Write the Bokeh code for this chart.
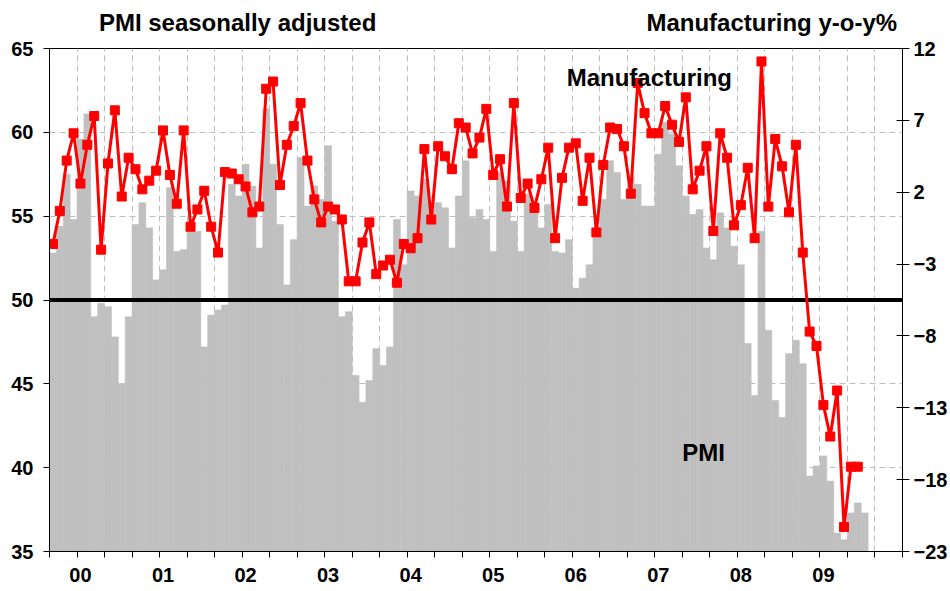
from bokeh.plotting import figure
from bokeh.layouts import column
from bokeh.models import Range1d, LinearAxis, FixedTicker, Span, Label
from bokeh.embed import file_html
from bokeh.resources import INLINE

# ---- data (monthly, Sep 1999 onwards) ----
year_labels = ["00", "01", "02", "03", "04", "05", "06", "07", "08", "09"]
months_before_first_jan = 4  # Sep, Oct, Nov, Dec 1999

pmi = [
    52.8, 54.4, 57.5, 54.8,                                                  # 1999 Sep-Dec
    59.6, 61.1, 49.0, 49.8, 49.6, 47.8, 45.0, 49.0, 54.5, 55.8, 54.3, 51.2,  # 2000
    51.8, 56.7, 52.9, 53.0, 54.1, 54.1, 47.2, 49.1, 49.4, 49.7, 56.9, 56.2,  # 2001
    58.1, 56.8, 53.1, 61.4, 58.1, 54.5, 50.9, 53.6, 58.5, 55.6, 56.8, 56.0,  # 2002
    59.2, 54.7, 49.0, 49.3, 45.5, 43.9, 45.2, 47.1, 46.1, 47.2, 54.8, 52.1,  # 2003
    56.5, 56.2, 57.2, 55.8, 55.8, 55.5, 53.1, 56.2, 58.3, 54.9, 55.4, 54.8,  # 2004
    52.9, 57.6, 57.1, 54.7, 52.9, 56.3, 55.6, 54.3, 55.7, 52.9, 52.8, 53.6,  # 2005
    50.7, 51.3, 52.1, 53.7, 56.0, 58.3, 57.6, 56.0, 57.4, 56.9, 55.6, 55.6,  # 2006
    58.7, 60.6, 59.9, 58.0, 56.2, 55.1, 55.4, 53.1, 52.4, 55.2, 54.3, 53.2,  # 2007
    52.1, 47.4, 44.3, 54.1, 48.2, 44.0, 43.0, 46.8, 47.6, 46.2, 39.5, 40.1,  # 2008
    40.7, 39.2, 36.1, 35.7, 37.3, 37.9, 37.3,                                # 2009
]

manufacturing = [
    -1.6, 0.7, 4.2, 6.1,
    2.6, 5.3, 7.3, -2.0, 4.0, 7.7, 1.7, 4.4, 3.6, 2.2, 2.8, 3.5,
    6.3, 3.2, 1.2, 6.3, -0.4, 0.8, 2.1, -0.4, -2.2, 3.4, 3.3, 2.9,
    2.4, 0.6, 1.0, 9.2, 9.7, 2.5, 5.3, 6.6, 8.2, 4.2, 1.5, -0.1,
    1.0, 0.8, 0.1, -4.2, -4.2, -1.5, -0.1, -3.7, -3.1, -2.7, -4.3, -1.6,
    -1.9, -1.2, 5.0, 0.1, 5.2, 4.5, 3.6, 6.8, 6.5, 4.7, 5.8, 7.8,
    3.2, 4.3, 1.0, 8.2, 1.6, 2.6, 0.9, 2.9, 5.1, -1.2, 3.0, 5.1,
    5.4, 1.4, 4.4, -0.8, 3.9, 6.5, 6.4, 5.2, 1.9, 9.6, 7.5, 6.1,
    6.1, 8.0, 6.7, 5.5, 8.6, 2.2, 3.5, 5.2, -0.7, 6.1, 4.4, -0.3,
    1.1, 3.7, -1.2, 11.1, 1.0, 5.7, 3.8, 0.6, 5.3, -2.2, -7.7, -8.7,
    -12.8, -15.0, -11.8, -21.3, -17.1, -17.1,
]

left_ticks = [35, 40, 45, 50, 55, 60, 65]
right_ticks = [-23, -18, -13, -8, -3, 2, 7, 12]

pmi_x = list(range(len(pmi)))
mfg_x = list(range(len(manufacturing)))

n_months = months_before_first_jan + 12 * len(year_labels)
x_start, x_end = -0.5, n_months - 0.5

FONT = "Liberation Sans"
W = 950
TITLE_H = 38
MAIN_H = 553

# ---- title strip ----
t = figure(width=W, height=TITLE_H, output_backend="svg", toolbar_location=None,
           x_range=Range1d(0, W), y_range=Range1d(0, TITLE_H),
           x_axis_location=None, y_axis_location=None,
           min_border_left=0, min_border_right=0, min_border_top=0, min_border_bottom=0)
t.title.visible = False
t.grid.visible = False
t.outline_line_color = None
t.background_fill_color = "white"
t.border_fill_color = "white"
for x, txt, al in [(55, "PMI seasonally adjusted", "left"),
                   (944, "Manufacturing y-o-y%", "right")]:
    t.add_layout(Label(x=x, y=16.5, text=txt, text_align=al, text_baseline="alphabetic",
                       text_font=FONT, text_font_style="bold", text_font_size="24px",
                       text_color="black"))

# ---- main chart ----
p = figure(width=W, height=MAIN_H, output_backend="svg", toolbar_location=None,
           x_range=Range1d(x_start, x_end), y_range=Range1d(left_ticks[0], left_ticks[-1]),
           min_border_left=49, min_border_right=48, min_border_top=10, min_border_bottom=40)
p.title.visible = False
p.background_fill_color = "white"
p.border_fill_color = "white"
p.outline_line_color = "black"
p.outline_line_width = 1

p.extra_y_ranges = {"mfg": Range1d(right_ticks[0], right_ticks[-1])}

# grids
p.xgrid.ticker = FixedTicker(ticks=[x_start + k for k in range(4, n_months - 3, 4)])
p.xgrid.grid_line_color = "#BEBEBE"
p.xgrid.grid_line_dash = "6 4"
p.xgrid.grid_line_width = 1
p.ygrid.ticker = FixedTicker(ticks=[v for v in left_ticks[1:-1] if v != 50])
p.ygrid.grid_line_color = "#BEBEBE"
p.ygrid.grid_line_dash = "6 4"
p.ygrid.grid_line_width = 1

# axes
jan_positions = [months_before_first_jan + 12 * k for k in range(len(year_labels))]
xa = p.xaxis[0]
xa.ticker = FixedTicker(ticks=jan_positions,
                        minor_ticks=[x_start + k for k in range(0, n_months + 1, 4)])
xa.major_label_overrides = {pos: lab for pos, lab in zip(jan_positions, year_labels)}
xa.major_tick_line_color = None
xa.major_tick_out = 6
xa.major_tick_in = 0
xa.minor_tick_out = 6
xa.minor_tick_in = 0
xa.minor_tick_line_color = "black"
xa.axis_line_color = "black"
xa.major_label_standoff = 10
xa.major_label_text_font = FONT
xa.major_label_text_font_style = "bold"
xa.major_label_text_font_size = "20px"
xa.major_label_text_color = "black"

ya = p.yaxis[0]
ya.ticker = FixedTicker(ticks=left_ticks)
ya.major_tick_out = 6
ya.major_tick_in = 0
ya.minor_tick_line_color = None
ya.axis_line_color = "black"
ya.major_label_standoff = 10
ya.major_label_text_font = FONT
ya.major_label_text_font_style = "bold"
ya.major_label_text_font_size = "20px"
ya.major_label_text_color = "black"

ra = LinearAxis(y_range_name="mfg", ticker=FixedTicker(ticks=right_ticks))
ra.major_tick_out = 7
ra.major_tick_in = 6
ra.minor_tick_line_color = None
ra.axis_line_color = "black"
ra.major_label_standoff = 4
ra.major_label_text_font = FONT
ra.major_label_text_font_style = "bold"
ra.major_label_text_font_size = "20px"
ra.major_label_text_color = "black"
p.add_layout(ra, "right")

# glyphs
p.vbar(x=pmi_x, top=pmi, bottom=left_ticks[0] - 5, width=1.0,
       fill_color="#C0C0C0", line_color="#C0C0C0", line_width=0.6)

fifty = Span(location=50, dimension="width", line_color="black", line_width=4, level="glyph")
p.renderers.append(fifty)

p.line(mfg_x, manufacturing, y_range_name="mfg", line_color="#FF0000", line_width=3)
p.scatter(mfg_x, manufacturing, y_range_name="mfg", marker="square", size=9,
          fill_color="#FF0000", line_color="#FF0000")

# in-plot series names
for x, y, txt in [(86.7, 63.27, "Manufacturing"), (94.6, 40.93, "PMI")]:
    p.add_layout(Label(x=x, y=y, text=txt, text_align="center", text_baseline="alphabetic",
                       text_font=FONT, text_font_style="bold", text_font_size="24px",
                       text_color="black"))

layout = column(t, p, spacing=0)
open("out.html", "w").write(file_html(layout, INLINE))
